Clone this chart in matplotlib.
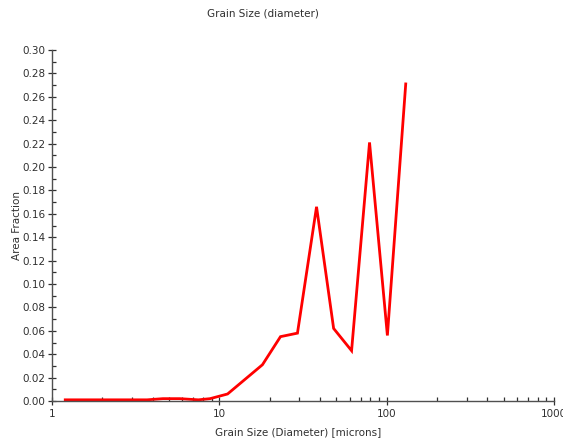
import matplotlib
matplotlib.use("Agg")
import matplotlib.pyplot as plt
from matplotlib.ticker import MultipleLocator, LogLocator, FixedLocator, FixedFormatter, NullFormatter

# Grain size distribution (diameter in microns vs area fraction)
diameter = [1.2, 3.7, 4.6, 5.8, 7.5, 8.8, 11.2, 18.1, 23.2, 29.3, 38.1, 48.2, 61.7, 79.0, 101.0, 130.0]
area_fraction = [0.001, 0.001, 0.002, 0.002, 0.001, 0.002, 0.006, 0.031, 0.055, 0.058, 0.166, 0.062, 0.043, 0.221, 0.056, 0.271]

x_ticks = [1, 10, 100, 1000]
x_tick_labels = ["1", "10", "100", "1000"]

plt.rcParams['font.family'] = ['DejaVu Sans']

fig = plt.figure(figsize=(5.63, 4.41), dpi=100)
ax = fig.add_axes([52 / 563, 1 - 401 / 441, (554 - 52) / 563, (401 - 50) / 441])

ax.plot(diameter, area_fraction, color="#ff0000", lw=2.0, solid_joinstyle="miter")

ax.set_xscale("log")
ax.set_xlim(1, 1000)
ax.set_ylim(0, 0.30)

ax.xaxis.set_major_locator(FixedLocator(x_ticks))
ax.xaxis.set_major_formatter(FixedFormatter(x_tick_labels))
ax.xaxis.set_minor_locator(LogLocator(base=10, subs=range(2, 10)))
ax.xaxis.set_minor_formatter(NullFormatter())

ax.yaxis.set_major_locator(MultipleLocator(0.02))
ax.yaxis.set_minor_locator(MultipleLocator(0.01))
ax.yaxis.set_major_formatter(plt.FuncFormatter(lambda v, p: f"{v:.2f}"))

for side in ("top", "right"):
    ax.spines[side].set_visible(False)
for side in ("left", "bottom"):
    ax.spines[side].set_color("#505050")
    ax.spines[side].set_linewidth(1.0)

ax.tick_params(which="major", direction="inout", length=6, width=0.9, color="#303030",
               labelsize=7.5, labelcolor="#303030", pad=2)
ax.tick_params(which="minor", direction="in", length=3, width=0.9, color="#303030")
ax.tick_params(axis="x", which="major", pad=3)

fig.text(263 / 563, 1 - 13 / 441, "Grain Size (diameter)", ha="center", va="center",
         fontsize=7.5, color="#303030")
fig.text(298 / 563, 1 - 432 / 441, "Grain Size (Diameter) [microns]", ha="center", va="center",
         fontsize=7.5, color="#303030")
fig.text(17 / 563, 1 - 225 / 441, "Area Fraction", ha="center", va="center",
         rotation=90, fontsize=7.5, color="#303030")

fig.savefig("out.png", dpi=100)
